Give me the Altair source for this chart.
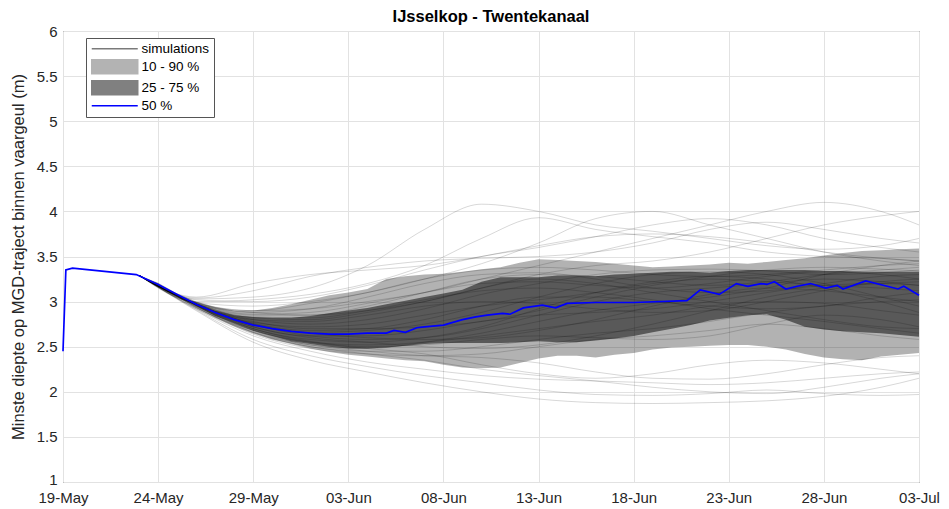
import altair as alt
import pandas as pd

TITLE = "IJsselkop - Twentekanaal"
Y_TITLE = "Minste diepte op MGD-traject binnen vaargeul (m)"

# x = days since 19-May
X_TICKS = [0, 5, 10, 15, 20, 25, 30, 35, 40, 45]
Y_TICKS = [1, 1.5, 2, 2.5, 3, 3.5, 4, 4.5, 5, 5.5, 6]

LEGEND_NAMES = ["simulations", "10 - 90 %", "25 - 75 %", "50 %"]
LEGEND_COLORS = ["#7a7a7a", "#b3b3b3", "#808080", "#0000ff"]

# median (50 %)
MED_DAY = [0, 0.15, 0.5, 3.85, 5, 6, 7, 8, 9, 10, 11, 12, 13, 14, 15, 16, 17, 17.4, 18,
           18.6, 19, 20, 21, 21.7, 22.3, 23.1, 23.5, 24.2, 25.2, 25.9, 26.5, 28, 30,
           32.8, 33.5, 34.5, 35.4, 36, 36.7, 37, 37.4, 38, 38.6, 39.3, 40.1, 40.7, 41,
           42.2, 43.9, 44.2, 45]
MED_VAL = [2.45, 3.35, 3.37, 3.30, 3.19, 3.08, 2.97, 2.88, 2.80, 2.74, 2.70, 2.67, 2.65,
           2.64, 2.64, 2.65, 2.65, 2.68, 2.66, 2.71, 2.72, 2.74, 2.80, 2.83, 2.85, 2.87,
           2.86, 2.93, 2.96, 2.93, 2.98, 2.99, 2.99, 3.01, 3.13, 3.08, 3.20, 3.17, 3.20,
           3.19, 3.22, 3.14, 3.17, 3.20, 3.15, 3.18, 3.14, 3.23, 3.14, 3.17, 3.07]

# percentile bands
BAND_DAY = [4, 5, 6, 7, 8, 9, 10, 11, 12, 13, 14, 15, 16, 17, 18, 19, 20, 21, 22, 23, 24,
            25, 26, 27, 28, 29, 30, 31, 32, 33, 34, 35, 36, 37, 38, 39, 40, 41, 42, 43,
            44, 45]
Q90 = [3.29, 3.21, 3.09, 3.00, 2.94, 2.90, 2.90, 2.93, 2.97, 3.02, 3.07, 3.10, 3.14, 3.25,
       3.28, 3.30, 3.31, 3.33, 3.36, 3.38, 3.43, 3.47, 3.46, 3.45, 3.44, 3.42, 3.40, 3.38,
       3.39, 3.40, 3.41, 3.43, 3.42, 3.44, 3.46, 3.48, 3.51, 3.54, 3.56, 3.57, 3.58, 3.59]
Q75 = [3.29, 3.20, 3.08, 2.98, 2.90, 2.85, 2.83, 2.82, 2.82, 2.84, 2.87, 2.90, 2.93, 2.97,
       3.01, 3.05, 3.09, 3.13, 3.22, 3.27, 3.27, 3.27, 3.29, 3.29, 3.28, 3.30, 3.31, 3.32,
       3.33, 3.33, 3.32, 3.34, 3.35, 3.35, 3.35, 3.35, 3.34, 3.34, 3.33, 3.33, 3.33, 3.33]
Q25 = [3.29, 3.18, 3.07, 2.95, 2.84, 2.76, 2.68, 2.62, 2.56, 2.53, 2.50, 2.48, 2.48, 2.49,
       2.51, 2.53, 2.54, 2.54, 2.54, 2.54, 2.55, 2.56, 2.55, 2.55, 2.57, 2.59, 2.62, 2.66,
       2.70, 2.74, 2.79, 2.82, 2.85, 2.86, 2.80, 2.72, 2.69, 2.67, 2.66, 2.65, 2.63, 2.61]
Q10 = [3.29, 3.17, 3.05, 2.93, 2.82, 2.73, 2.65, 2.58, 2.53, 2.48, 2.44, 2.41, 2.39, 2.37,
       2.35, 2.34, 2.30, 2.27, 2.26, 2.27, 2.32, 2.37, 2.40, 2.40, 2.38, 2.41, 2.43, 2.47,
       2.49, 2.50, 2.51, 2.52, 2.52, 2.50, 2.47, 2.42, 2.38, 2.36, 2.35, 2.39, 2.41, 2.43]

# individual simulations
SIM_DAY = [4, 7, 10, 13, 16, 19, 22, 25, 28, 31, 34, 37, 40, 43, 45]
SIMS = {
    "U1": [3.29, 3.03, 3.05, 3.15, 3.40, 3.80, 4.08, 4.00, 3.85, 3.78, 3.70, 3.62, 3.58, 3.62, 3.70],
    "U2": [3.29, 3.00, 3.02, 3.08, 3.20, 3.40, 3.70, 3.93, 3.80, 3.72, 3.65, 3.55, 3.50, 3.48, 3.45],
    "U3": [3.29, 2.99, 2.95, 3.00, 3.10, 3.25, 3.42, 3.65, 3.92, 4.00, 3.85, 3.70, 3.55, 3.45, 3.40],
    "U4": [3.29, 2.98, 2.90, 2.92, 3.00, 3.10, 3.25, 3.40, 3.55, 3.70, 3.85, 4.00, 4.10, 4.00, 3.85],
    "U5": [3.29, 2.97, 2.88, 2.85, 2.90, 3.00, 3.15, 3.30, 3.40, 3.45, 3.55, 3.70, 3.85, 3.95, 4.00],
    "U6": [3.29, 3.05, 3.20, 3.30, 3.35, 3.40, 3.50, 3.62, 3.72, 3.75, 3.72, 3.65, 3.55, 3.48, 3.45],
    "U7": [3.29, 3.04, 3.12, 3.28, 3.38, 3.45, 3.48, 3.50, 3.55, 3.65, 3.80, 3.88, 3.80, 3.70, 3.65],
    "U8": [3.29, 3.02, 3.00, 3.05, 3.18, 3.35, 3.50, 3.60, 3.72, 3.85, 3.92, 3.85, 3.70, 3.60, 3.55],
    "L1": [3.29, 2.90, 2.55, 2.35, 2.22, 2.10, 2.00, 1.92, 1.88, 1.87, 1.88, 1.90, 1.95, 2.05, 2.15],
    "L2": [3.29, 2.91, 2.58, 2.40, 2.28, 2.18, 2.10, 2.02, 1.97, 1.96, 1.98, 2.02, 1.98, 1.96, 1.97],
    "L3": [3.29, 2.92, 2.62, 2.45, 2.33, 2.25, 2.18, 2.14, 2.12, 2.10, 2.08, 2.10, 2.15, 2.20, 2.22],
    "L4": [3.29, 2.92, 2.65, 2.50, 2.42, 2.35, 2.25, 2.18, 2.12, 2.05, 2.00, 1.98, 2.05, 2.15, 2.20],
    "L5": [3.29, 2.93, 2.66, 2.52, 2.45, 2.40, 2.38, 2.32, 2.22, 2.15, 2.14, 2.20, 2.30, 2.38, 2.40],
    "L6": [3.29, 2.93, 2.68, 2.55, 2.48, 2.42, 2.30, 2.20, 2.15, 2.20, 2.30, 2.35, 2.32, 2.25, 2.20],
    "M1": [3.29, 2.97, 2.75, 2.62, 2.58, 2.60, 2.70, 2.85, 3.00, 3.10, 3.15, 3.20, 3.25, 3.22, 3.18],
    "M2": [3.29, 2.96, 2.72, 2.60, 2.55, 2.50, 2.48, 2.52, 2.62, 2.75, 2.90, 3.05, 3.15, 3.20, 3.22],
    "M3": [3.29, 2.98, 2.82, 2.80, 2.88, 3.00, 3.15, 3.25, 3.20, 3.10, 3.00, 2.90, 2.80, 2.72, 2.70],
    "M4": [3.29, 2.99, 2.88, 2.92, 3.05, 3.20, 3.30, 3.32, 3.25, 3.15, 3.10, 3.12, 3.20, 3.28, 3.30],
    "M5": [3.29, 2.95, 2.68, 2.52, 2.48, 2.55, 2.65, 2.78, 2.90, 2.98, 3.05, 3.15, 3.30, 3.40, 3.45],
    "M6": [3.29, 2.96, 2.74, 2.66, 2.68, 2.75, 2.88, 3.05, 3.20, 3.30, 3.33, 3.30, 3.20, 3.05, 2.95],
    "M7": [3.29, 2.97, 2.78, 2.70, 2.70, 2.72, 2.78, 2.90, 3.05, 3.18, 3.28, 3.35, 3.38, 3.36, 3.34],
    "M8": [3.29, 2.94, 2.66, 2.50, 2.45, 2.45, 2.50, 2.58, 2.65, 2.70, 2.78, 2.88, 2.95, 3.00, 3.02],
    "M9": [3.29, 2.99, 2.90, 2.98, 3.10, 3.25, 3.35, 3.38, 3.35, 3.30, 3.28, 3.30, 3.35, 3.40, 3.42],
    "M10": [3.29, 2.98, 2.85, 2.85, 2.95, 3.10, 3.25, 3.30, 3.28, 3.22, 3.18, 3.22, 3.30, 3.35, 3.38],
    "M11": [3.29, 2.96, 2.70, 2.58, 2.55, 2.60, 2.72, 2.92, 3.10, 3.22, 3.28, 3.25, 3.15, 3.00, 2.88],
    "M12": [3.29, 2.95, 2.70, 2.56, 2.50, 2.52, 2.58, 2.62, 2.60, 2.58, 2.62, 2.75, 2.85, 2.80, 2.72],
    "M13": [3.29, 2.97, 2.76, 2.68, 2.70, 2.80, 2.95, 3.05, 3.05, 3.00, 2.95, 2.92, 2.95, 3.05, 3.10],
    "M14": [3.29, 2.98, 2.80, 2.75, 2.80, 2.92, 3.08, 3.20, 3.30, 3.35, 3.36, 3.34, 3.30, 3.32, 3.35],
    "M15": [3.29, 2.95, 2.68, 2.55, 2.52, 2.55, 2.62, 2.70, 2.78, 2.85, 2.95, 3.00, 2.98, 2.90, 2.85],
    "M16": [3.29, 2.96, 2.72, 2.62, 2.62, 2.68, 2.78, 2.85, 2.88, 2.92, 3.00, 3.10, 3.18, 3.20, 3.18],
    "M17": [3.29, 2.97, 2.80, 2.78, 2.85, 2.95, 3.00, 2.98, 2.92, 2.88, 2.90, 3.00, 3.12, 3.22, 3.25],
    "M18": [3.29, 2.94, 2.64, 2.48, 2.42, 2.40, 2.42, 2.50, 2.58, 2.62, 2.68, 2.75, 2.70, 2.62, 2.58],
    "M19": [3.29, 2.99, 2.86, 2.88, 2.98, 3.10, 3.20, 3.22, 3.18, 3.15, 3.20, 3.28, 3.33, 3.30, 3.25],
    "M20": [3.29, 2.96, 2.75, 2.65, 2.60, 2.58, 2.60, 2.68, 2.80, 2.95, 3.08, 3.15, 3.12, 3.05, 3.00],
    "M21": [3.29, 2.98, 2.83, 2.82, 2.90, 3.02, 3.12, 3.15, 3.10, 3.02, 2.92, 2.85, 2.78, 2.70, 2.65],
    "M22": [3.29, 2.97, 2.77, 2.72, 2.75, 2.85, 2.95, 3.02, 3.10, 3.20, 3.25, 3.22, 3.18, 3.15, 3.12],
}

# ---- tables -------------------------------------------------------------
med_df = pd.DataFrame({"d": MED_DAY, "v": MED_VAL})
band_df = pd.DataFrame({"d": BAND_DAY, "q10": Q10, "q25": Q25, "q75": Q75, "q90": Q90})
sim_rows = []
for name, vals in SIMS.items():
    for d, v in zip(SIM_DAY, vals):
        sim_rows.append({"sim": name, "d": d, "v": v})
sim_df = pd.DataFrame(sim_rows)
leg_df = pd.DataFrame({"series": LEGEND_NAMES, "d": [-10] * 4, "v": [0] * 4})

FONT = "Liberation Sans"
TXT = "#262626"

x_scale = alt.Scale(domain=[0, 45], nice=False, zero=False)
y_scale = alt.Scale(domain=[1, 6], nice=False, zero=False)

x_axis = alt.Axis(
    values=X_TICKS,
    labelExpr="timeFormat(datetime(2021, 4, 19 + datum.value), '%d-%b')",
    title=None, grid=True, domain=False, ticks=False, labelPadding=8, labelFlush=False,
    labelFont=FONT, labelFontSize=15, labelColor=TXT,
)
y_axis = alt.Axis(
    values=Y_TICKS, format=".1~f", title=Y_TITLE, grid=True, domain=False,
    ticks=False, labelPadding=6, titlePadding=10, labelFlush=False,
    labelOffset={"expr": "datum.value == 1 ? -3 : 0"},
    labelFont=FONT, labelFontSize=15, labelColor=TXT,
    titleFont=FONT, titleFontSize=16.5, titleColor=TXT, titleFontWeight="normal",
)

X = alt.X("d:Q", scale=x_scale, axis=x_axis)

band_outer = alt.Chart(band_df).mark_area(color="black", opacity=0.3).encode(
    x=X, y=alt.Y("q10:Q", scale=y_scale, axis=y_axis), y2="q90:Q"
)
band_inner = alt.Chart(band_df).mark_area(color="black", opacity=0.5).encode(
    x="d:Q", y="q25:Q", y2="q75:Q"
)
sims = alt.Chart(sim_df).mark_line(
    interpolate="monotone", color="black", opacity=0.2, strokeWidth=0.8
).encode(x="d:Q", y="v:Q", detail="sim:N")
median = alt.Chart(med_df).mark_line(color="#0000ff", strokeWidth=1.7).encode(
    x="d:Q", y="v:Q"
)

# legend symbols: size 100 -> path unit = 5 px; symbols drawn 46 px wide
LINE = "M-1,0H8.2"
RECT = "M-1,-1.4H8.2V1.4H-1Z"
legend = alt.Legend(
    title=None, orient="none", legendX=23, legendY=7, symbolSize=100,
    symbolStrokeWidth=1.5, labelFont=FONT, labelFontSize=13.5, labelColor="black",
    strokeColor="#555555", fillColor="white", padding=4, rowPadding=0,
    labelOffset=38,
)
legend_layer = alt.Chart(leg_df).mark_point(filled=True, opacity=1, clip=True).encode(
    x="d:Q", y="v:Q",
    fill=alt.Fill("series:N", scale=alt.Scale(domain=LEGEND_NAMES, range=LEGEND_COLORS), legend=legend),
    stroke=alt.Stroke("series:N", scale=alt.Scale(domain=LEGEND_NAMES, range=LEGEND_COLORS), legend=legend),
    shape=alt.Shape("series:N", scale=alt.Scale(domain=LEGEND_NAMES, range=[LINE, RECT, RECT, LINE]), legend=legend),
)

chart = alt.layer(band_outer, band_inner, sims, median, legend_layer).properties(
    width=856, height=451,
    title=alt.TitleParams(TITLE, font=FONT, fontSize=16.5, fontWeight="bold", color="black", offset=-1),
    autosize=alt.AutoSizeParams(type="none"),
    padding={"left": 63, "top": 31, "right": 30, "bottom": 27},
    background="white",
).configure_view(
    stroke=TXT, strokeWidth=1
).configure_axis(
    gridColor="#e2e2e2", gridWidth=1,
)

chart.save("out.html", embed_options={"renderer": "svg", "actions": False})
